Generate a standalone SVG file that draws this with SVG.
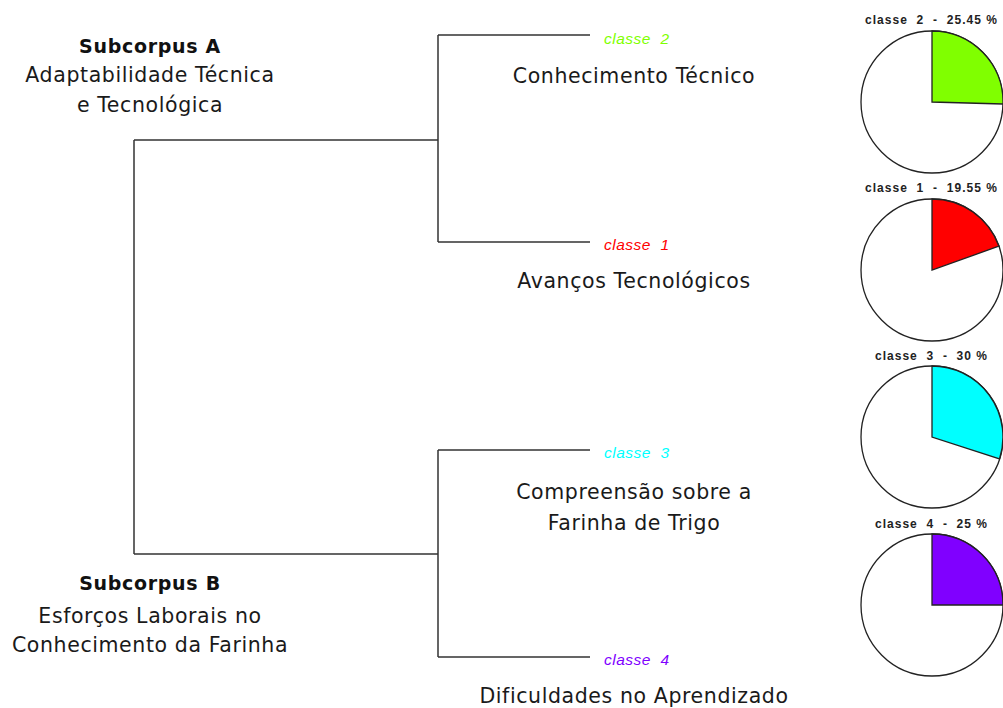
<svg xmlns="http://www.w3.org/2000/svg" width="1003" height="708" viewBox="0 0 1003 708">
<style>
.line{stroke:#333;stroke-width:1.5;fill:none}
.lab{font-family:"Liberation Sans",Arial,sans-serif;font-style:italic;font-size:15.5px}
.theme{font-family:"DejaVu Sans",sans-serif;font-size:20.5px;letter-spacing:0.6px;fill:#1a1a1a;text-anchor:middle}
.sub{font-family:"DejaVu Sans",sans-serif;font-size:19px;letter-spacing:0.7px;font-weight:bold;fill:#111;text-anchor:middle}
.pt{font-family:"Liberation Sans",Arial,sans-serif;font-size:12px;font-weight:bold;fill:#222;text-anchor:middle}
.pie{stroke:#222;stroke-width:1.3}
</style>
<rect width="1003" height="708" fill="#fff"/>
<g id="connectors">
<path class="line" d="M134,140 V554 M134,140 H438 M134,554 H438 M438,35 V242 M438,35 H590 M438,242 H590 M438,450 V657 M438,450 H590 M438,657 H590"/>
</g>
<g id="subcorpusA">
<text class="sub" x="150" y="53">Subcorpus A</text>
<text class="theme" x="150" y="82">Adaptabilidade Técnica</text>
<text class="theme" x="150" y="112">e Tecnológica</text>
</g>
<g id="subcorpusB">
<text class="sub" x="150" y="590">Subcorpus B</text>
<text class="theme" x="150" y="623">Esforços Laborais no</text>
<text class="theme" x="150" y="652">Conhecimento da Farinha</text>
</g>
<g id="classe2">
<text class="lab" x="604" y="44" fill="#80ff00" xml:space="preserve" textLength="65">classe  2</text>
<text class="theme" x="634" y="83">Conhecimento Técnico</text>
</g>
<g id="classe1">
<text class="lab" x="604" y="250" fill="#ff0000" xml:space="preserve" textLength="65">classe  1</text>
<text class="theme" x="634" y="288">Avanços Tecnológicos</text>
</g>
<g id="classe3">
<text class="lab" x="604" y="458" fill="#00ffff" xml:space="preserve" textLength="65">classe  3</text>
<text class="theme" x="634" y="499">Compreensão sobre a</text>
<text class="theme" x="634" y="530">Farinha de Trigo</text>
</g>
<g id="classe4">
<text class="lab" x="604" y="665" fill="#8000ff" xml:space="preserve" textLength="65">classe  4</text>
<text class="theme" x="634" y="703">Dificuldades no Aprendizado</text>
</g>
<g id="pie2">
<text class="pt" x="931" y="24" xml:space="preserve" textLength="132">classe  2  -  25.45 %</text>
<circle class="pie" cx="932" cy="102" r="71" fill="#fff"/>
<path class="pie" d="M932,102 V31 A71,71 0 0 1 1003,104 Z" fill="#80ff00"/>
</g>
<g id="pie1">
<text class="pt" x="931" y="192" xml:space="preserve" textLength="132">classe  1  -  19.55 %</text>
<circle class="pie" cx="932" cy="270" r="71" fill="#fff"/>
<path class="pie" d="M932,270 V199 A71,71 0 0 1 998.9,246.2 Z" fill="#ff0000"/>
</g>
<g id="pie3">
<text class="pt" x="931" y="360" xml:space="preserve" textLength="112">classe  3  -  30 %</text>
<circle class="pie" cx="932" cy="437" r="71" fill="#fff"/>
<path class="pie" d="M932,437 V366 A71,71 0 0 1 999.5,458.9 Z" fill="#00ffff"/>
</g>
<g id="pie4">
<text class="pt" x="931" y="528" xml:space="preserve" textLength="112">classe  4  -  25 %</text>
<circle class="pie" cx="932" cy="605" r="71" fill="#fff"/>
<path class="pie" d="M932,605 V534 A71,71 0 0 1 1003,605 Z" fill="#8000ff"/>
</g>
</svg>
